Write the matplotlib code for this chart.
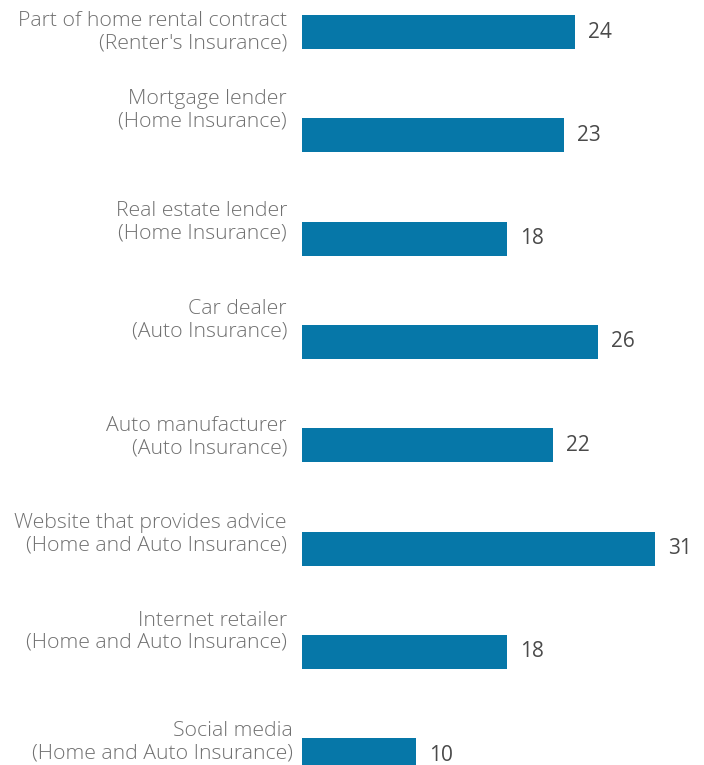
import matplotlib.pyplot as plt
from matplotlib import font_manager

categories = [
    "Part of home rental contract\n(Renter's Insurance)",
    "Mortgage lender\n(Home Insurance)",
    "Real estate lender\n(Home Insurance)",
    "Car dealer\n(Auto Insurance)",
    "Auto manufacturer\n(Auto Insurance)",
    "Website that provides advice\n(Home and Auto Insurance)",
    "Internet retailer\n(Home and Auto Insurance)",
    "Social media\n(Home and Auto Insurance)",
]
values = [24, 23, 18, 26, 22, 31, 18, 10]

# vertical shift of each label relative to its bar (pixels, up is positive)
label_shift = [0, 25, 16, 22, 8, 14, 20, 13]

BAR_COLOR = '#0677a8'
LABEL_COLOR = '#707070'
VALUE_COLOR = '#4a4a4a'

fams = {f.name for f in font_manager.fontManager.ttflist}
plt.rcParams['font.family'] = ['Open Sans', 'DejaVu Sans'] if 'Open Sans' in fams else ['DejaVu Sans']

W, H = 704, 765
fig = plt.figure(figsize=(W / 100, H / 100), dpi=100)
x0 = 302
ax = fig.add_axes([x0 / W, 0, 1 - x0 / W, 1])

step = 103.3
first = 32
ypos = list(range(len(values)))
ax.barh(ypos, values, height=34 / step, color=BAR_COLOR, align='center')
ax.set_xlim(0, (W - x0) / ((655 - x0) / 31))
ax.set_ylim((H - first) / step, -first / step)
ax.axis('off')

for i, (lab, v) in enumerate(zip(categories, values)):
    dx = -9 if i == len(values) - 1 else -15
    ax.annotate(lab, xy=(0, i), xytext=(dx, label_shift[i]), textcoords='offset pixels',
                ha='right', va='center', fontsize=15.3, color=LABEL_COLOR,
                fontweight='light', linespacing=1.15, annotation_clip=False)
    ax.annotate(str(v), xy=(v, i), xytext=(13, 0), textcoords='offset pixels',
                ha='left', va='center', fontsize=15, color=VALUE_COLOR,
                annotation_clip=False)

fig.savefig('out.png', dpi=100)
